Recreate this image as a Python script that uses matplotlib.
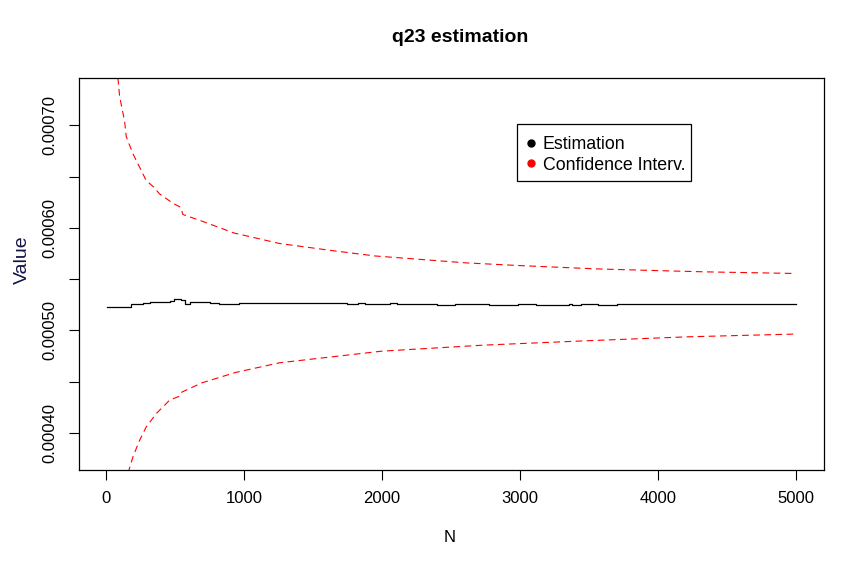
import numpy as np
import matplotlib.pyplot as plt
from matplotlib.lines import Line2D
from matplotlib.patches import Rectangle

plt.rcParams['font.family'] = ['Liberation Sans', 'DejaVu Sans']

# running estimate of q23 (step-wise)
est_n = [5, 55, 55, 179, 179, 267, 267, 316, 316, 381, 381, 429, 429, 462, 462, 494,
         494, 543, 543, 569, 569, 608, 608, 722, 722, 755, 755, 820, 820, 885, 885, 966,
         966, 1747, 1747, 1829, 1829, 1878, 1878, 2056, 2056, 2105, 2105, 2398, 2398, 2528,
         2528, 2772, 2772, 2984, 2984, 3114, 3114, 3358, 3358, 3374, 3374, 3440, 3440, 3569,
         3569, 3700, 3700, 5000]
est_val = [0.0005230, 0.0005230, 0.0005224, 0.0005224, 0.0005253, 0.0005253, 0.0005263, 0.0005263,
           0.0005273, 0.0005273, 0.0005282, 0.0005282, 0.0005276, 0.0005276, 0.0005285, 0.0005285,
           0.0005302, 0.0005302, 0.0005295, 0.0005295, 0.0005256, 0.0005256, 0.0005273, 0.0005273,
           0.0005282, 0.0005282, 0.0005269, 0.0005269, 0.0005259, 0.0005259, 0.0005253, 0.0005253,
           0.0005266, 0.0005266, 0.0005258, 0.0005258, 0.0005266, 0.0005266, 0.0005258, 0.0005258,
           0.0005266, 0.0005266, 0.0005258, 0.0005258, 0.0005250, 0.0005250, 0.0005258, 0.0005258,
           0.0005250, 0.0005250, 0.0005258, 0.0005258, 0.0005250, 0.0005250, 0.0005258, 0.0005258,
           0.0005250, 0.0005250, 0.0005258, 0.0005258, 0.0005250, 0.0005250, 0.0005256, 0.0005256]

# confidence interval bounds
up_n = [50, 87, 98, 134, 146, 195, 243, 291, 343, 388, 484, 540, 557, 685, 926, 1258,
        1628, 1948, 2614, 2984, 3550, 3970, 4340, 5000]
up_val = [0.000800, 0.000744, 0.000728, 0.000704, 0.000689, 0.000672, 0.000659, 0.000646,
          0.000640, 0.000633, 0.000624, 0.000620, 0.000613, 0.000607, 0.000595, 0.0005847,
          0.000578, 0.0005726, 0.0005658, 0.0005633, 0.0005600, 0.0005584, 0.0005571, 0.0005555]
lo_n = [120, 170, 195, 243, 291, 364, 460, 533, 550, 696, 937, 1258, 1998, 2738, 3477,
        4217, 5000]
lo_val = [0.000340, 0.000366, 0.000377, 0.000393, 0.000406, 0.000419, 0.000432, 0.000436,
          0.000440, 0.000449, 0.000459, 0.0004685, 0.0004798, 0.0004857, 0.0004899,
          0.0004938, 0.0004965]

yticks = np.arange(0.00040, 0.000701, 0.00005)

fig = plt.figure(figsize=(8.6, 5.68), dpi=100)
ax = fig.add_axes([78.5 / 860, 1 - 470 / 568, 745 / 860, 392 / 568])

ax.plot(est_n, est_val, color="black", lw=0.9)
ax.plot(up_n, up_val, color="red", lw=0.8, dashes=(6, 4))
ax.plot(lo_n, lo_val, color="red", lw=0.8, dashes=(6, 4))

ax.set_xlim(-200, 5200)
ax.set_ylim(0.000364, 0.000746)
ax.set_xticks([0, 1000, 2000, 3000, 4000, 5000])
ax.set_yticks(yticks)
ax.set_yticklabels(["%.5f" % v if round(v * 1e5) % 10 == 0 else "" for v in yticks],
                   rotation=90, va="center")
ax.tick_params(length=7, width=0.8, labelsize=12, pad=8)
for s in ax.spines.values():
    s.set_linewidth(0.9)

fig.text(0.535, 1 - 38 / 568, "q23 estimation", ha="center", va="center",
         fontsize=14, fontweight="bold")
fig.text(450 / 860, 1 - 538 / 568, "N", ha="center", va="center", fontsize=12)
fig.text(22 / 860, 1 - 260 / 568, "Value", ha="center", va="center", fontsize=14,
         rotation=90, color="#14144a")

# legend: R-style box drawn separately, entries without frame
fig.patches.append(Rectangle((517 / 860, 1 - 181 / 568), 174 / 860, 57 / 568,
                             transform=fig.transFigure, fill=False, ec="black", lw=0.9,
                             zorder=5))
handles = [Line2D([], [], ls="none", marker="o", ms=5, color="black"),
           Line2D([], [], ls="none", marker="o", ms=5, color="red")]
ax.legend(handles, ["Estimation", "Confidence Interv."], loc="upper left",
          bbox_to_anchor=((517 - 78.5) / 745, (470 - 124) / 392), borderaxespad=0,
          fontsize=12.8, frameon=False, handlelength=0.3, handletextpad=0.5,
          labelspacing=0.22, borderpad=0.66)

fig.savefig("out.png", dpi=100)
